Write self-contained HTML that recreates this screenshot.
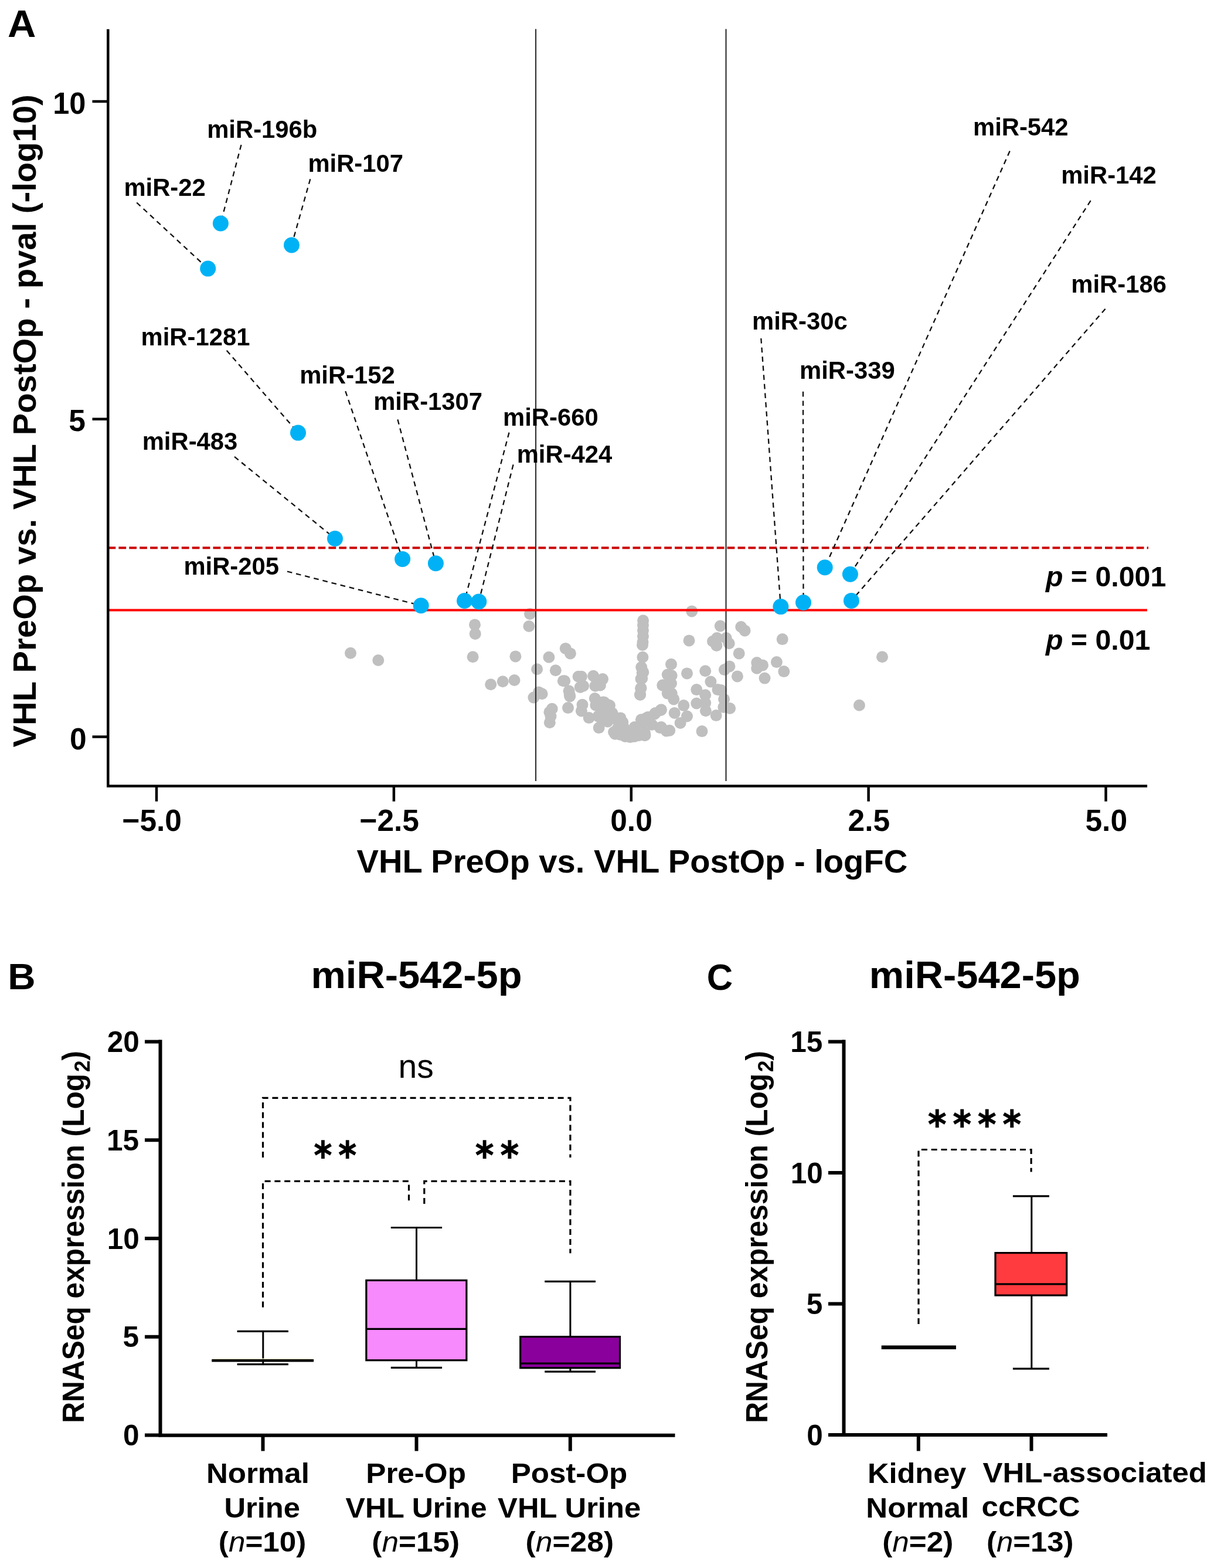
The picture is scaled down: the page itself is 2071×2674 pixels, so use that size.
<!DOCTYPE html>
<html><head><meta charset="utf-8"><title>Figure</title>
<style>
html,body{margin:0;padding:0;background:#fff;overflow:hidden;}
svg{display:block;}
text{font-family:"Liberation Sans",Arial,Helvetica,sans-serif;}
</style></head><body>
<svg width="2071" height="2674" viewBox="0 0 2071 2674">
<rect width="2071" height="2674" fill="#fff"/>
<g fill="#bfbfbf"><circle cx="598" cy="1113.7" r="10"/><circle cx="645.3" cy="1126" r="10"/><circle cx="810" cy="1065.4" r="10"/><circle cx="810.7" cy="1080.9" r="10"/><circle cx="806.6" cy="1120.3" r="10"/><circle cx="879.4" cy="1119.4" r="10"/><circle cx="837.2" cy="1167.2" r="10"/><circle cx="857.7" cy="1162.3" r="10"/><circle cx="877.5" cy="1160" r="10"/><circle cx="904" cy="1047" r="10"/><circle cx="902.4" cy="1068" r="10"/><circle cx="936.4" cy="1120.8" r="10"/><circle cx="964.8" cy="1105.9" r="10"/><circle cx="972.9" cy="1114.4" r="10"/><circle cx="916.1" cy="1141.3" r="10"/><circle cx="947.8" cy="1143.2" r="10"/><circle cx="960.8" cy="1161.2" r="10"/><circle cx="972.2" cy="1187.5" r="10"/><circle cx="910.4" cy="1189.6" r="10"/><circle cx="919" cy="1180.4" r="10"/><circle cx="924.6" cy="1183.2" r="10"/><circle cx="941.7" cy="1208.8" r="10"/><circle cx="937.4" cy="1214.4" r="10"/><circle cx="939.5" cy="1221.5" r="10"/><circle cx="937.8" cy="1232.2" r="10"/><circle cx="1097.1" cy="1058.3" r="10"/><circle cx="1097" cy="1066" r="10"/><circle cx="1097" cy="1075" r="10"/><circle cx="1097" cy="1085" r="10"/><circle cx="1096.5" cy="1095" r="10"/><circle cx="1096" cy="1100" r="10"/><circle cx="1096.4" cy="1120.8" r="10"/><circle cx="1094.2" cy="1137.8" r="10"/><circle cx="1095.7" cy="1147.7" r="10"/><circle cx="1093.5" cy="1157.7" r="10"/><circle cx="1093.5" cy="1173.3" r="10"/><circle cx="1092.1" cy="1184.6" r="10"/><circle cx="963.2" cy="1161.3" r="10"/><circle cx="986.6" cy="1153.8" r="10"/><circle cx="991.9" cy="1153.8" r="10"/><circle cx="1012.2" cy="1152.8" r="10"/><circle cx="1028.1" cy="1158.1" r="10"/><circle cx="989.8" cy="1171.9" r="10"/><circle cx="995.1" cy="1169.8" r="10"/><circle cx="1015.4" cy="1169.8" r="10"/><circle cx="1023.9" cy="1168.7" r="10"/><circle cx="971.7" cy="1184.7" r="10"/><circle cx="970.6" cy="1178.3" r="10"/><circle cx="969" cy="1207.1" r="10"/><circle cx="993.5" cy="1201.7" r="10"/><circle cx="991.9" cy="1212.4" r="10"/><circle cx="1004.7" cy="1224.1" r="10"/><circle cx="1014.8" cy="1191.1" r="10"/><circle cx="1016.4" cy="1202.8" r="10"/><circle cx="1028.1" cy="1197.5" r="10"/><circle cx="1036.6" cy="1201.7" r="10"/><circle cx="1021.7" cy="1241.1" r="10"/><circle cx="1026" cy="1225.2" r="10"/><circle cx="1036.6" cy="1230.5" r="10"/><circle cx="1045.2" cy="1218.8" r="10"/><circle cx="1053.7" cy="1225.2" r="10"/><circle cx="1062.2" cy="1231.5" r="10"/><circle cx="1049.4" cy="1251.8" r="10"/><circle cx="1057.9" cy="1252.8" r="10"/><circle cx="1053.7" cy="1242.2" r="10"/><circle cx="1075" cy="1257.1" r="10"/><circle cx="1066.5" cy="1256" r="10"/><circle cx="1082.4" cy="1256" r="10"/><circle cx="1083.5" cy="1242.2" r="10"/><circle cx="1100.5" cy="1253.9" r="10"/><circle cx="1096.3" cy="1230.5" r="10"/><circle cx="1104.8" cy="1225.2" r="10"/><circle cx="1116.5" cy="1217.7" r="10"/><circle cx="1127.1" cy="1211.3" r="10"/><circle cx="1126.1" cy="1241.1" r="10"/><circle cx="1136.7" cy="1246.5" r="10"/><circle cx="1112.2" cy="1235.8" r="10"/><circle cx="1092" cy="1184.7" r="10"/><circle cx="1093.1" cy="1174.1" r="10"/><circle cx="1095.2" cy="1157" r="10"/><circle cx="1097.3" cy="1146.4" r="10"/><circle cx="1130.3" cy="1168.7" r="10"/><circle cx="1138.8" cy="1182.6" r="10"/><circle cx="1138.8" cy="1150.6" r="10"/><circle cx="1180.2" cy="1042.4" r="10"/><circle cx="1175.5" cy="1092.4" r="10"/><circle cx="1228.8" cy="1067.5" r="10"/><circle cx="1264.2" cy="1069" r="10"/><circle cx="1270.6" cy="1075.4" r="10"/><circle cx="1216" cy="1093.8" r="10"/><circle cx="1223.1" cy="1088.1" r="10"/><circle cx="1222.4" cy="1100.9" r="10"/><circle cx="1238.7" cy="1088.1" r="10"/><circle cx="1243.7" cy="1097.3" r="10"/><circle cx="1260.7" cy="1114.4" r="10"/><circle cx="1244.4" cy="1136.4" r="10"/><circle cx="1235.9" cy="1142.1" r="10"/><circle cx="1257.9" cy="1153.4" r="10"/><circle cx="1145" cy="1132.8" r="10"/><circle cx="1172" cy="1148.4" r="10"/><circle cx="1203.2" cy="1144.2" r="10"/><circle cx="1145.7" cy="1152" r="10"/><circle cx="1145" cy="1165.5" r="10"/><circle cx="1130.8" cy="1168.3" r="10"/><circle cx="1145.7" cy="1182.5" r="10"/><circle cx="1149.3" cy="1192.4" r="10"/><circle cx="1212.4" cy="1162.6" r="10"/><circle cx="1188.3" cy="1176.1" r="10"/><circle cx="1224.5" cy="1176.1" r="10"/><circle cx="1203.2" cy="1185.3" r="10"/><circle cx="1235.1" cy="1192.4" r="10"/><circle cx="1188.3" cy="1199.5" r="10"/><circle cx="1203.2" cy="1198.8" r="10"/><circle cx="1203.9" cy="1212.3" r="10"/><circle cx="1221.7" cy="1220.1" r="10"/><circle cx="1234.4" cy="1205.9" r="10"/><circle cx="1245.1" cy="1208" r="10"/><circle cx="1197.5" cy="1247.1" r="10"/><circle cx="1166.3" cy="1203.1" r="10"/><circle cx="1172" cy="1221.5" r="10"/><circle cx="1160.6" cy="1232.9" r="10"/><circle cx="1150.7" cy="1215.9" r="10"/><circle cx="1142.2" cy="1245.7" r="10"/><circle cx="1128" cy="1210.2" r="10"/><circle cx="1118.1" cy="1215.9" r="10"/><circle cx="1128" cy="1240" r="10"/><circle cx="1105.3" cy="1223" r="10"/><circle cx="1093.9" cy="1227.2" r="10"/><circle cx="1099.6" cy="1254.2" r="10"/><circle cx="1082.6" cy="1240" r="10"/><circle cx="1075.5" cy="1255.6" r="10"/><circle cx="1058.5" cy="1224.4" r="10"/><circle cx="1061.3" cy="1232.9" r="10"/><circle cx="1047.1" cy="1248.5" r="10"/><circle cx="1057" cy="1251.3" r="10"/><circle cx="1040" cy="1203.1" r="10"/><circle cx="1044.3" cy="1215.9" r="10"/><circle cx="1334.7" cy="1090.1" r="10"/><circle cx="1291.2" cy="1130" r="10"/><circle cx="1301" cy="1134.4" r="10"/><circle cx="1291.2" cy="1139.7" r="10"/><circle cx="1304.5" cy="1156.6" r="10"/><circle cx="1324.9" cy="1129.1" r="10"/><circle cx="1337.3" cy="1145.1" r="10"/><circle cx="1505" cy="1120.2" r="10"/><circle cx="1465.9" cy="1202.7" r="10"/><circle cx="1230" cy="1177" r="10"/><circle cx="1030.4" cy="1197.4" r="10"/><circle cx="1034.6" cy="1203.1" r="10"/><circle cx="1026.1" cy="1210.2" r="10"/><circle cx="1020.4" cy="1221.5" r="10"/><circle cx="1037.5" cy="1218.7" r="10"/><circle cx="1050.2" cy="1225.8" r="10"/><circle cx="1058.8" cy="1227.2" r="10"/><circle cx="1051.7" cy="1247.1" r="10"/><circle cx="1064.4" cy="1241.4" r="10"/><circle cx="1065.9" cy="1252.8" r="10"/><circle cx="1075.8" cy="1254.2" r="10"/><circle cx="1082.9" cy="1241.4" r="10"/><circle cx="1097.1" cy="1232.9" r="10"/><circle cx="1102.8" cy="1224.4" r="10"/><circle cx="1099.9" cy="1249.9" r="10"/><circle cx="1090" cy="1254.2" r="10"/></g>
<g stroke="#333" stroke-width="2.2"><line x1="914" y1="49.5" x2="914" y2="1332"/><line x1="1238.5" y1="49.5" x2="1238.5" y2="1332"/></g>
<line x1="184.5" y1="934.3" x2="1959" y2="934.3" stroke="#cc0000" stroke-width="4" stroke-dasharray="12.8 5.1"/>
<line x1="184.5" y1="1040.6" x2="1957" y2="1040.6" stroke="#ff0000" stroke-width="4"/>
<g stroke="#111" stroke-width="2.3" stroke-dasharray="8.7 6.9" fill="none">
<line x1="233.2" y1="345.5" x2="354.7" y2="458.1"/>
<line x1="411.5" y1="247" x2="376.4" y2="381"/>
<line x1="529.3" y1="305.4" x2="497.5" y2="418"/>
<line x1="386.7" y1="597.7" x2="508.5" y2="738.1"/>
<line x1="400" y1="778.9" x2="571.5" y2="918.5"/>
<line x1="589.3" y1="667.1" x2="686.6" y2="953.4"/>
<line x1="678.4" y1="715.4" x2="743.4" y2="960.8"/>
<line x1="868.5" y1="737.6" x2="792.5" y2="1024.5"/>
<line x1="875.6" y1="792.3" x2="816.8" y2="1026"/>
<line x1="489.9" y1="974.5" x2="718.2" y2="1032.7"/>
<line x1="1298.3" y1="577" x2="1331.9" y2="1034.6"/>
<line x1="1370" y1="667.8" x2="1370.5" y2="1027.5"/>
<line x1="1722.7" y1="257.5" x2="1407.2" y2="967.7"/>
<line x1="1860.6" y1="342.2" x2="1450.4" y2="979.2"/>
<line x1="1885.6" y1="526.7" x2="1452.4" y2="1024.4"/>
</g>
<g fill="#00b2f5"><circle cx="354.7" cy="458.1" r="13.5"/><circle cx="376.4" cy="381" r="13.5"/><circle cx="497.5" cy="418" r="13.5"/><circle cx="508.5" cy="738.1" r="13.5"/><circle cx="571.5" cy="918.5" r="13.5"/><circle cx="686.6" cy="953.4" r="13.5"/><circle cx="743.4" cy="960.8" r="13.5"/><circle cx="718.2" cy="1032.7" r="13.5"/><circle cx="792.5" cy="1024.5" r="13.5"/><circle cx="816.8" cy="1026" r="13.5"/><circle cx="1331.9" cy="1034.6" r="13.5"/><circle cx="1370.5" cy="1027.5" r="13.5"/><circle cx="1407.2" cy="967.7" r="13.5"/><circle cx="1450.4" cy="979.2" r="13.5"/><circle cx="1452.4" cy="1024.4" r="13.5"/></g>
<text transform="translate(211.38,333.90)" font-size="41.80" fill="#000"><tspan style="font-weight:bold">miR-22</tspan></text>
<text transform="translate(353.18,235.10)" font-size="41.80" fill="#000"><tspan style="font-weight:bold">miR-196b</tspan></text>
<text transform="translate(525.38,293.00)" font-size="41.80" fill="#000"><tspan style="font-weight:bold">miR-107</tspan></text>
<text transform="translate(240.58,588.80)" font-size="41.80" fill="#000"><tspan style="font-weight:bold">miR-1281</tspan></text>
<text transform="translate(511.18,653.80)" font-size="41.80" fill="#000"><tspan style="font-weight:bold">miR-152</tspan></text>
<text transform="translate(637.18,699.10)" font-size="41.80" fill="#000"><tspan style="font-weight:bold">miR-1307</tspan></text>
<text transform="translate(242.68,767.10)" font-size="41.80" fill="#000"><tspan style="font-weight:bold">miR-483</tspan></text>
<text transform="translate(858.08,725.70)" font-size="41.80" fill="#000"><tspan style="font-weight:bold">miR-660</tspan></text>
<text transform="translate(881.68,789.30)" font-size="41.80" fill="#000"><tspan style="font-weight:bold">miR-424</tspan></text>
<text transform="translate(313.38,980.40)" font-size="41.80" fill="#000"><tspan style="font-weight:bold">miR-205</tspan></text>
<text transform="translate(1283.08,561.60)" font-size="41.80" fill="#000"><tspan style="font-weight:bold">miR-30c</tspan></text>
<text transform="translate(1364.08,645.50)" font-size="41.80" fill="#000"><tspan style="font-weight:bold">miR-339</tspan></text>
<text transform="translate(1659.98,231.10)" font-size="41.80" fill="#000"><tspan style="font-weight:bold">miR-542</tspan></text>
<text transform="translate(1810.18,313.40)" font-size="41.80" fill="#000"><tspan style="font-weight:bold">miR-142</tspan></text>
<text transform="translate(1827.28,498.60)" font-size="41.80" fill="#000"><tspan style="font-weight:bold">miR-186</tspan></text>
<text transform="translate(1783.89,1000.30)" font-size="48.30" fill="#000"><tspan style="font-weight:bold;font-style:italic">p</tspan><tspan style="font-weight:bold"> = 0.001</tspan></text>
<text transform="translate(1783.89,1107.60)" font-size="48.30" fill="#000"><tspan style="font-weight:bold;font-style:italic">p</tspan><tspan style="font-weight:bold"> = 0.01</tspan></text>
<g stroke="#000" stroke-width="4.5" fill="none">
<path d="M184.3 49.7 V1340.5 H1957.1" stroke-linecap="butt" stroke-linejoin="miter"/>
<line x1="157.5" y1="173" x2="184.3" y2="173"/>
<line x1="157.5" y1="714.7" x2="184.3" y2="714.7"/>
<line x1="157.5" y1="1256.5" x2="184.3" y2="1256.5"/>
<line x1="267" y1="1340.5" x2="267" y2="1366.7"/>
<line x1="671.9" y1="1340.5" x2="671.9" y2="1366.7"/>
<line x1="1076.8" y1="1340.5" x2="1076.8" y2="1366.7"/>
<line x1="1481.6" y1="1340.5" x2="1481.6" y2="1366.7"/>
<line x1="1886.5" y1="1340.5" x2="1886.5" y2="1366.7"/>
</g>
<text transform="translate(90.24,193.80) scale(0.9810,1)" font-size="51.50" fill="#000"><tspan style="font-weight:bold">10</tspan></text>

<text transform="translate(117.13,735.00)" font-size="51.50" fill="#000"><tspan style="font-weight:bold">5</tspan></text>
<text transform="translate(118.98,1277.60)" font-size="51.50" fill="#000"><tspan style="font-weight:bold">0</tspan></text>
<text transform="translate(208.31,1417.40)" font-size="51.50" fill="#000"><tspan style="font-weight:bold">−5.0</tspan></text>
<text transform="translate(613.31,1417.40)" font-size="51.50" fill="#000"><tspan style="font-weight:bold">−2.5</tspan></text>
<text transform="translate(1041.21,1417.40)" font-size="51.50" fill="#000"><tspan style="font-weight:bold">0.0</tspan></text>
<text transform="translate(1446.51,1417.40)" font-size="51.50" fill="#000"><tspan style="font-weight:bold">2.5</tspan></text>
<text transform="translate(1851.46,1417.40)" font-size="51.50" fill="#000"><tspan style="font-weight:bold">5.0</tspan></text>
<text transform="translate(608.48,1488.20) scale(0.9989,1)" font-size="56.20" fill="#000"><tspan style="font-weight:bold">VHL PreOp vs. VHL PostOp - logFC</tspan></text>
<text transform="translate(61.00,1274.42) rotate(-90) scale(1.0006,1)" font-size="56.20" fill="#000"><tspan style="font-weight:bold">VHL PreOp vs. VHL PostOp - pval (-log10)</tspan></text>
<text transform="translate(13.02,63.40) scale(1.0390,1)" font-size="64.50" fill="#000"><tspan style="font-weight:bold">A</tspan></text>
<text transform="translate(13.27,1687.40) scale(1.0409,1)" font-size="63.00" fill="#000"><tspan style="font-weight:bold">B</tspan></text>
<text transform="translate(530.46,1684.50) scale(1.0200,1)" font-size="65.50" fill="#000"><tspan style="font-weight:bold">miR-542-5p</tspan></text>
<text transform="translate(1205.65,1687.50) scale(0.9742,1)" font-size="63.00" fill="#000"><tspan style="font-weight:bold">C</tspan></text>
<text transform="translate(1482.86,1684.50) scale(1.0200,1)" font-size="65.50" fill="#000"><tspan style="font-weight:bold">miR-542-5p</tspan></text>
<path d="M273.5 1773.2 V2447.7 H1151.5" stroke="#000" stroke-width="6" fill="none" stroke-linecap="butt" stroke-linejoin="miter"/>
<line x1="247.0" y1="2447.5" x2="273.5" y2="2447.5" stroke="#000" stroke-width="6"/>
<text transform="translate(210.11,2465.20)" font-size="49.50" fill="#000"><tspan style="font-weight:bold">0</tspan></text>
<line x1="247.0" y1="2279.75" x2="273.5" y2="2279.75" stroke="#000" stroke-width="6"/>
<text transform="translate(209.49,2297.45)" font-size="49.50" fill="#000"><tspan style="font-weight:bold">5</tspan></text>
<line x1="247.0" y1="2112.0" x2="273.5" y2="2112.0" stroke="#000" stroke-width="6"/>
<text transform="translate(182.63,2129.70)" font-size="49.50" fill="#000"><tspan style="font-weight:bold">10</tspan></text>
<line x1="247.0" y1="1944.25" x2="273.5" y2="1944.25" stroke="#000" stroke-width="6"/>
<text transform="translate(182.02,1961.95)" font-size="49.50" fill="#000"><tspan style="font-weight:bold">15</tspan></text>
<line x1="247.0" y1="1776.5" x2="273.5" y2="1776.5" stroke="#000" stroke-width="6"/>
<text transform="translate(182.63,1794.20)" font-size="49.50" fill="#000"><tspan style="font-weight:bold">20</tspan></text>
<line x1="448.5" y1="2447.5" x2="448.5" y2="2474.5" stroke="#000" stroke-width="6"/>
<line x1="710.5" y1="2447.5" x2="710.5" y2="2474.5" stroke="#000" stroke-width="6"/>
<line x1="972.8" y1="2447.5" x2="972.8" y2="2474.5" stroke="#000" stroke-width="6"/>
<path d="M1439.5 1773.2 V2447 H1889" stroke="#000" stroke-width="6" fill="none" stroke-linecap="butt" stroke-linejoin="miter"/>
<line x1="1413.0" y1="2447.0" x2="1439.5" y2="2447.0" stroke="#000" stroke-width="6"/>
<text transform="translate(1376.31,2464.70)" font-size="49.50" fill="#000"><tspan style="font-weight:bold">0</tspan></text>
<line x1="1413.0" y1="2223.5" x2="1439.5" y2="2223.5" stroke="#000" stroke-width="6"/>
<text transform="translate(1375.69,2241.20)" font-size="49.50" fill="#000"><tspan style="font-weight:bold">5</tspan></text>
<line x1="1413.0" y1="2000.0" x2="1439.5" y2="2000.0" stroke="#000" stroke-width="6"/>
<text transform="translate(1348.84,2017.70)" font-size="49.50" fill="#000"><tspan style="font-weight:bold">10</tspan></text>
<line x1="1413.0" y1="1776.5" x2="1439.5" y2="1776.5" stroke="#000" stroke-width="6"/>
<text transform="translate(1348.22,1794.20)" font-size="49.50" fill="#000"><tspan style="font-weight:bold">15</tspan></text>
<line x1="1566.8" y1="2447" x2="1566.8" y2="2474.5" stroke="#000" stroke-width="6"/>
<line x1="1759.5" y1="2447" x2="1759.5" y2="2474.5" stroke="#000" stroke-width="6"/>
<line x1="448.8" y1="2270.4" x2="448.8" y2="2326.6" stroke="#000" stroke-width="3"/>
<line x1="404.6" y1="2270.4" x2="491.9" y2="2270.4" stroke="#000" stroke-width="3.2"/>
<line x1="404.6" y1="2326.6" x2="491.9" y2="2326.6" stroke="#000" stroke-width="3.2"/>
<line x1="363" y1="2317.2" x2="533.5" y2="2317.2" stroke="#f4f4cc" stroke-width="1.2"/>
<line x1="361.2" y1="2320.3" x2="535.1" y2="2320.3" stroke="#000" stroke-width="4.4"/>
<line x1="710.5" y1="2093.5" x2="710.5" y2="2332.3" stroke="#000" stroke-width="3"/>
<line x1="666.8" y1="2093.5" x2="754.1" y2="2093.5" stroke="#000" stroke-width="3.2"/>
<line x1="666.8" y1="2332.3" x2="754.1" y2="2332.3" stroke="#000" stroke-width="3.2"/>
<rect x="624.85" y="2183.45" width="171" height="136.3" fill="#f78afc" stroke="#000" stroke-width="3.2"/>
<line x1="624.85" y1="2266.4" x2="795.85" y2="2266.4" stroke="#000" stroke-width="3.2"/>
<line x1="972.9" y1="2185.4" x2="972.9" y2="2339.2" stroke="#000" stroke-width="3"/>
<line x1="929.2" y1="2185.4" x2="1016" y2="2185.4" stroke="#000" stroke-width="3.2"/>
<line x1="929.2" y1="2339.2" x2="1016" y2="2339.2" stroke="#000" stroke-width="3.2"/>
<rect x="887.7" y="2279.6" width="169.8" height="53.2" fill="#8a009c" stroke="#000" stroke-width="3.2"/>
<line x1="887.7" y1="2325.2" x2="1057.5" y2="2325.2" stroke="#000" stroke-width="3.2"/>
<line x1="1759.8" y1="2039.8" x2="1759.8" y2="2334.2" stroke="#000" stroke-width="3"/>
<line x1="1727.9" y1="2039.8" x2="1789.9" y2="2039.8" stroke="#000" stroke-width="3.2"/>
<line x1="1727.9" y1="2334.2" x2="1789.9" y2="2334.2" stroke="#000" stroke-width="3.2"/>
<rect x="1698" y="2136.6" width="121.7" height="72.4" fill="#ff3b3f" stroke="#000" stroke-width="3.2"/>
<line x1="1698" y1="2189.9" x2="1819.7" y2="2189.9" stroke="#000" stroke-width="3.2"/>
<line x1="1503.7" y1="2297.8" x2="1630.9" y2="2297.8" stroke="#000" stroke-width="6.6"/>
<path d="M448.5 1974 V1872.3 H972.9 V1974" stroke="#000" stroke-width="3.2" fill="none" stroke-dasharray="10 6.8"/>
<path d="M448.5 2229.6 V2014.3 H697.5 V2053" stroke="#000" stroke-width="3.2" fill="none" stroke-dasharray="10 6.8"/>
<path d="M723.8 2053 V2014.3 H972.9 V2137.2" stroke="#000" stroke-width="3.2" fill="none" stroke-dasharray="10 6.8"/>
<path d="M1567 2258 V1960.5 H1759.1 V1998.5" stroke="#000" stroke-width="3.2" fill="none" stroke-dasharray="10 6.8"/>
<text transform="translate(679.54,1837.90) scale(0.9933,1)" font-size="57.50" fill="#000"><tspan >ns</tspan></text>
<text transform="translate(530.22,1976.40) scale(0.9798,1)" font-size="50.84" fill="#000"><tspan font-family='DejaVu Sans',sans-serif style="font-weight:bold">∗∗</tspan></text>
<text transform="translate(805.60,1976.40) scale(1.0003,1)" font-size="50.84" fill="#000"><tspan font-family='DejaVu Sans',sans-serif style="font-weight:bold">∗∗</tspan></text>
<text transform="translate(1577.52,1923.40) scale(1.0100,1)" font-size="50.20" fill="#000"><tspan font-family='DejaVu Sans',sans-serif style="font-weight:bold">∗∗∗∗</tspan></text>
<text transform="translate(351.95,2529.00) scale(1.0422,1)" font-size="49.00" fill="#000"><tspan style="font-weight:bold">Normal</tspan></text>
<text transform="translate(382.46,2587.60) scale(1.0343,1)" font-size="49.00" fill="#000"><tspan style="font-weight:bold">Urine</tspan></text>
<text transform="translate(372.84,2645.60) scale(1.0452,1)" font-size="49.00" fill="#000"><tspan style="font-weight:bold">(</tspan><tspan style="font-style:italic">n</tspan><tspan style="font-weight:bold">=10)</tspan></text>
<text transform="translate(624.24,2529.30) scale(1.0454,1)" font-size="49.00" fill="#000"><tspan style="font-weight:bold">Pre-Op</tspan></text>
<text transform="translate(589.62,2587.60) scale(1.0219,1)" font-size="49.00" fill="#000"><tspan style="font-weight:bold">VHL Urine</tspan></text>
<text transform="translate(634.34,2645.50) scale(1.0467,1)" font-size="49.00" fill="#000"><tspan style="font-weight:bold">(</tspan><tspan style="font-style:italic">n</tspan><tspan style="font-weight:bold">=15)</tspan></text>
<text transform="translate(871.65,2529.30) scale(1.0431,1)" font-size="49.00" fill="#000"><tspan style="font-weight:bold">Post-Op</tspan></text>
<text transform="translate(849.12,2587.60) scale(1.0339,1)" font-size="49.00" fill="#000"><tspan style="font-weight:bold">VHL Urine</tspan></text>
<text transform="translate(896.62,2645.50) scale(1.0525,1)" font-size="49.00" fill="#000"><tspan style="font-weight:bold">(</tspan><tspan style="font-style:italic">n</tspan><tspan style="font-weight:bold">=28)</tspan></text>
<text transform="translate(1480.09,2529.20) scale(1.0298,1)" font-size="49.00" fill="#000"><tspan style="font-weight:bold">Kidney</tspan></text>
<text transform="translate(1477.36,2587.60) scale(1.0415,1)" font-size="49.00" fill="#000"><tspan style="font-weight:bold">Normal</tspan></text>
<text transform="translate(1505.13,2646.00) scale(1.0472,1)" font-size="49.00" fill="#000"><tspan style="font-weight:bold">(</tspan><tspan style="font-style:italic">n</tspan><tspan style="font-weight:bold">=2)</tspan></text>
<text transform="translate(1676.62,2528.00) scale(1.0402,1)" font-size="49.00" fill="#000"><tspan style="font-weight:bold">VHL-associated</tspan></text>
<text transform="translate(1674.45,2586.00) scale(1.0457,1)" font-size="49.00" fill="#000"><tspan style="font-weight:bold">ccRCC</tspan></text>
<text transform="translate(1682.96,2646.00) scale(1.0387,1)" font-size="49.00" fill="#000"><tspan style="font-weight:bold">(</tspan><tspan style="font-style:italic">n</tspan><tspan style="font-weight:bold">=13)</tspan></text>
<text transform="translate(143.00,2426.85) rotate(-90) scale(0.9646,1)" font-size="51.50" fill="#000"><tspan style="font-weight:bold">RNASeq expression (Log</tspan><tspan dx="2.58" style="font-weight:bold" font-size="37.08" dy="10.30">2</tspan><tspan style="font-weight:bold" dy="-10.30">)</tspan></text>
<text transform="translate(1309.00,2426.75) rotate(-90) scale(0.9645,1)" font-size="51.50" fill="#000"><tspan style="font-weight:bold">RNASeq expression (Log</tspan><tspan dx="2.58" style="font-weight:bold" font-size="37.08" dy="10.30">2</tspan><tspan style="font-weight:bold" dy="-10.30">)</tspan></text>
</svg></body></html>
